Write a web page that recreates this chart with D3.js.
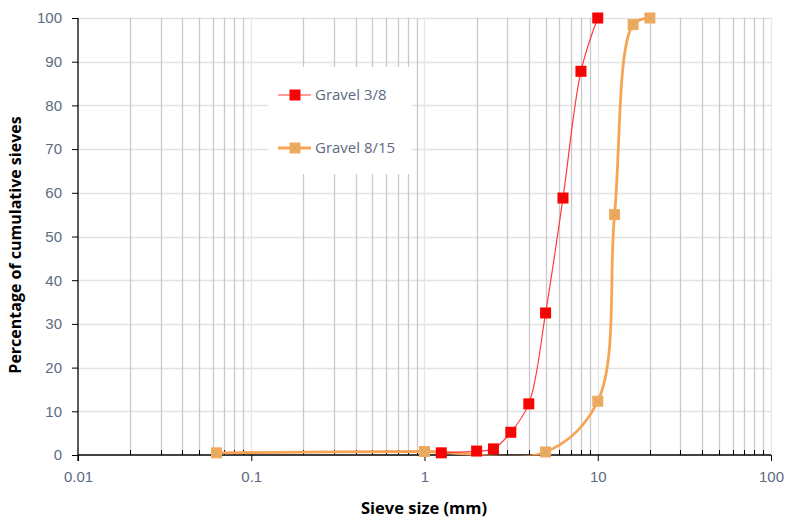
<!DOCTYPE html>
<html>
<head>
<meta charset="utf-8">
<title>Sieve analysis</title>
<script src="https://cdnjs.cloudflare.com/ajax/libs/d3/7.8.5/d3.min.js"></script>
<style>
	body { margin: 0; background: #fff; }
	svg { display: block; font-family: "Open Sans", "Noto Sans", sans-serif; }
</style>
</head>
<body>
<svg id="chart" width="785" height="518"></svg>
<script>

	// sieve sizes (mm) and cumulative passing (%)
	var sizes38 = [1.25, 2, 2.5, 3.15, 4, 5, 6.3, 8, 10];
	var vals38 = [0.5, 0.9, 1.4, 5.2, 11.7, 32.5, 58.8, 87.8, 100];
	var sizes815 = [0.063, 1, 5, 10, 12.5, 16, 20];
	var vals815 = [0.5, 0.8, 0.7, 12.3, 55, 98.5, 100];

	var seriesNames = ["Gravel 3/8", "Gravel 8/15"];
	var xTicks = [0.01, 0.1, 1, 10, 100];
	var xTickLabels = ["0.01", "0.1", "1", "10", "100"];
	var yTicks = [0, 10, 20, 30, 40, 50, 60, 70, 80, 90, 100];

	function draw() {
		var svg = d3.select("#chart"),
		    left = 78, right = 771, plotTop = 18, bottom = 455;

		var x = d3.scaleLog().domain([0.01, 100]).range([left, right]);
		var y = d3.scaleLinear().domain([0, 100]).range([bottom, plotTop]);

		var labelColor = "#5d6a82";

		// minor x values 2..9 per decade
		var minor = [];
		for (var d = 0.01; d < 99; d *= 10) {
			for (var k = 2; k <= 9; k++) minor.push(+(d * k).toPrecision(3));
		}

		svg.append("clipPath").attr("id", "plotclip")
			.append("rect").attr("x", 0).attr("y", 0).attr("width", 785).attr("height", bottom + 0.5);

		var grid = svg.append("g");
		grid.selectAll(".hg").data(yTicks.slice(1))
			.enter().append("line")
			.attr("x1", left).attr("x2", right)
			.attr("y1", function(d) { return Math.round(y(d)) + 0.5; })
			.attr("y2", function(d) { return Math.round(y(d)) + 0.5; })
			.attr("stroke", "#e2e2e2").attr("stroke-width", 1.3);
		grid.selectAll(".mg").data(minor)
			.enter().append("line")
			.attr("x1", function(d) { return Math.round(x(d)) + 0.5; })
			.attr("x2", function(d) { return Math.round(x(d)) + 0.5; })
			.attr("y1", plotTop).attr("y2", bottom)
			.attr("stroke", "#c9c9c9").attr("stroke-width", 1.3);
		grid.selectAll(".Mg").data(xTicks.slice(1))
			.enter().append("line")
			.attr("x1", function(d) { return Math.round(x(d)) + 0.5; })
			.attr("x2", function(d) { return Math.round(x(d)) + 0.5; })
			.attr("y1", plotTop).attr("y2", bottom)
			.attr("stroke", "#e6e6e6").attr("stroke-width", 1.3);

		// axes
		var xAxis = svg.append("g")
			.attr("transform", "translate(0," + bottom + ")")
			.call(d3.axisBottom(x).tickValues(xTicks).tickSize(6).tickPadding(10)
				.tickFormat(function(d, i) { return xTickLabels[i]; }));
		xAxis.append("g").selectAll("line").data(minor)
			.enter().append("line")
			.attr("x1", function(d) { return Math.round(x(d)) + 0.5; })
			.attr("x2", function(d) { return Math.round(x(d)) + 0.5; })
			.attr("y1", 0).attr("y2", -5)
			.attr("stroke", "#000");

		var yAxis = svg.append("g")
			.attr("transform", "translate(" + left + ",0)")
			.call(d3.axisLeft(y).tickValues(yTicks).tickSize(6).tickPadding(10));

		svg.selectAll(".domain").attr("stroke", "#000").attr("stroke-width", 1.3);
		xAxis.select(".domain").attr("d", "M" + left + ",0H" + right);
		yAxis.select(".domain").attr("d", "M0," + plotTop + "V" + (bottom + 6));
		svg.selectAll(".tick line").attr("stroke", "#000");
		svg.selectAll(".tick text").attr("fill", labelColor).style("font-size", "15px");

		// axis titles
		svg.append("text")
			.attr("x", 424).attr("y", 514)
			.attr("text-anchor", "middle")
			.style("font-size", "16.5px").style("font-weight", "bold")
			.text("Sieve size (mm)");
		svg.append("text")
			.attr("transform", "translate(21,245) rotate(-90)")
			.attr("text-anchor", "middle")
			.style("font-size", "16px").style("font-weight", "bold")
			.text("Percentage of cumulative sieves");

		var line = d3.line()
			.x(function(d) { return x(d[0]); })
			.y(function(d) { return y(d[1]); })
			.curve(d3.curveCatmullRom.alpha(0.5));

		function marker(g, cx, cy, fill, cross) {
			var s = 5.5;
			g.append("rect")
				.attr("x", cx - s).attr("y", cy - s)
				.attr("width", 2 * s).attr("height", 2 * s)
				.attr("fill", fill);
			g.append("path")
				.attr("d", "M" + (cx - s + 1) + "," + (cy - s + 1) + "L" + (cx + s - 1) + "," + (cy + s - 1) +
					"M" + (cx + s - 1) + "," + (cy - s + 1) + "L" + (cx - s + 1) + "," + (cy + s - 1))
				.attr("stroke", cross).attr("stroke-width", 1).attr("fill", "none");
		}

		var series = [
			{name: seriesNames[0], xs: sizes38, ys: vals38, stroke: "#ff3b3b", width: 1.2, fill: "#ff0000", cross: "#c81a1a"},
			{name: seriesNames[1], xs: sizes815, ys: vals815, stroke: "#f7a457", width: 2.8, fill: "#f2a95e", cross: "#c7ae68"}
		];

		// orange first, red on top
		[series[1], series[0]].forEach(function(s) {
			var pts = s.xs.map(function(v, i) { return [v, s.ys[i]]; });
			var g = svg.append("g");
			g.append("path").datum(pts)
				.attr("clip-path", "url(#plotclip)")
				.attr("fill", "none").attr("stroke", s.stroke)
				.attr("stroke-width", s.width).attr("d", line);
			pts.forEach(function(p) { marker(g, x(p[0]), y(p[1]), s.fill, s.cross); });
		});

		// legend
		var lg = svg.append("g");
		lg.append("rect").attr("x", 268).attr("y", 67).attr("width", 144).attr("height", 107).attr("fill", "#fff");
		series.forEach(function(s, i) {
			var cy = 95 + i * 53;
			lg.append("line").attr("x1", 278).attr("x2", 311).attr("y1", cy).attr("y2", cy)
				.attr("stroke", s.stroke).attr("stroke-width", s.width);
			marker(lg, 295, cy, s.fill, s.cross);
			lg.append("text").attr("x", 315).attr("y", cy + 5)
				.attr("fill", labelColor).style("font-size", "15px")
				.text(s.name);
		});
	}

	draw();

</script>
</body>
</html>
